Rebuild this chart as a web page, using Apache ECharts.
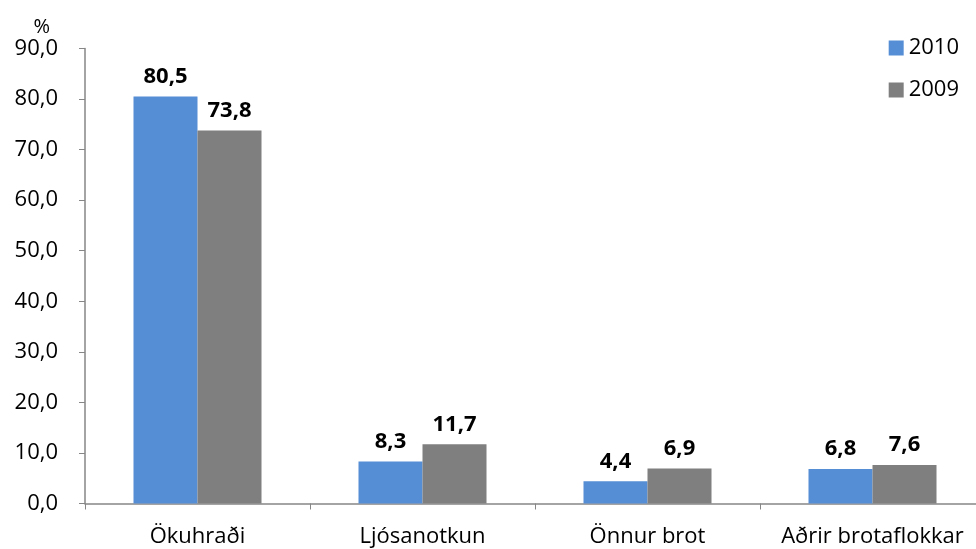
<!DOCTYPE html>
<html lang="is">
<head>
    <meta charset="UTF-8">
    <title>Brot</title>
    <script src="https://cdn.jsdelivr.net/npm/echarts@6/dist/echarts.min.js"></script>
</head>
<body style="margin:0">
<div id="main" style="width:976px;height:549px;"></div>
<script type="text/javascript">
    // gögn
    var categories = ['Ökuhraði', 'Ljósanotkun', 'Önnur brot', 'Aðrir brotaflokkar'];
    var values2010 = [80.5, 8.3, 4.4, 6.8];
    var values2009 = [73.8, 11.7, 6.9, 7.6];
    var seriesNames = ['2010', '2009'];

    var font = 'Open Sans';
    var fs = 22;
    function comma(v) { return v.toFixed(1).replace('.', ','); }

    var myChart = echarts.init(document.getElementById('main'));
    var option = {
        color: ['#558ed5', '#7f7f7f'],
        animation: false,
        textStyle: {fontFamily: font},
        legend: {
            data: seriesNames,
            orient: 'vertical',
            right: 12,
            top: 32,
            itemWidth: 15,
            itemHeight: 15,
            itemGap: 20,
            icon: 'rect',
            textStyle: {fontSize: fs, color: '#000', fontFamily: font}
        },
        grid: {left: 85, right: -9, top: 48.5, bottom: 45.5, containLabel: false, outerBoundsMode: 'none'},
        xAxis: {
            type: 'category',
            data: categories,
            axisLine: {lineStyle: {color: '#868686', width: 1.5}},
            axisTick: {show: true, interval: 0, length: 6, lineStyle: {color: '#868686'}},
            axisLabel: {interval: 0, fontSize: fs, color: '#000', margin: 22, fontFamily: font}
        },
        yAxis: {
            type: 'value',
            min: 0, max: 90, interval: 10,
            name: '%',
            nameLocation: 'end',
            nameGap: 11,
            nameTextStyle: {fontSize: fs - 2, color: '#000', align: 'right', padding: [0, 35, 0, 0], fontFamily: font},
            axisLine: {show: true, lineStyle: {color: '#868686', width: 1.5}},
            axisTick: {show: true, length: 6, lineStyle: {color: '#868686'}},
            splitLine: {show: false},
            axisLabel: {fontSize: fs, color: '#000', margin: 27, fontFamily: font, formatter: comma}
        },
        series: [
            {
                name: seriesNames[0], type: 'bar', data: values2010,
                barWidth: 64, barGap: '0%',
                label: {show: true, position: 'top', distance: 9, fontSize: fs, fontWeight: 'bold', color: '#000',
                    fontFamily: font, formatter: function (p) { return comma(p.value); }}
            },
            {
                name: seriesNames[1], type: 'bar', data: values2009,
                barWidth: 64, barGap: '0%',
                label: {show: true, position: 'top', distance: 9, fontSize: fs, fontWeight: 'bold', color: '#000',
                    fontFamily: font, formatter: function (p) { return comma(p.value); }}
            }
        ]
    };
    myChart.setOption(option);
</script>
</body>
</html>
